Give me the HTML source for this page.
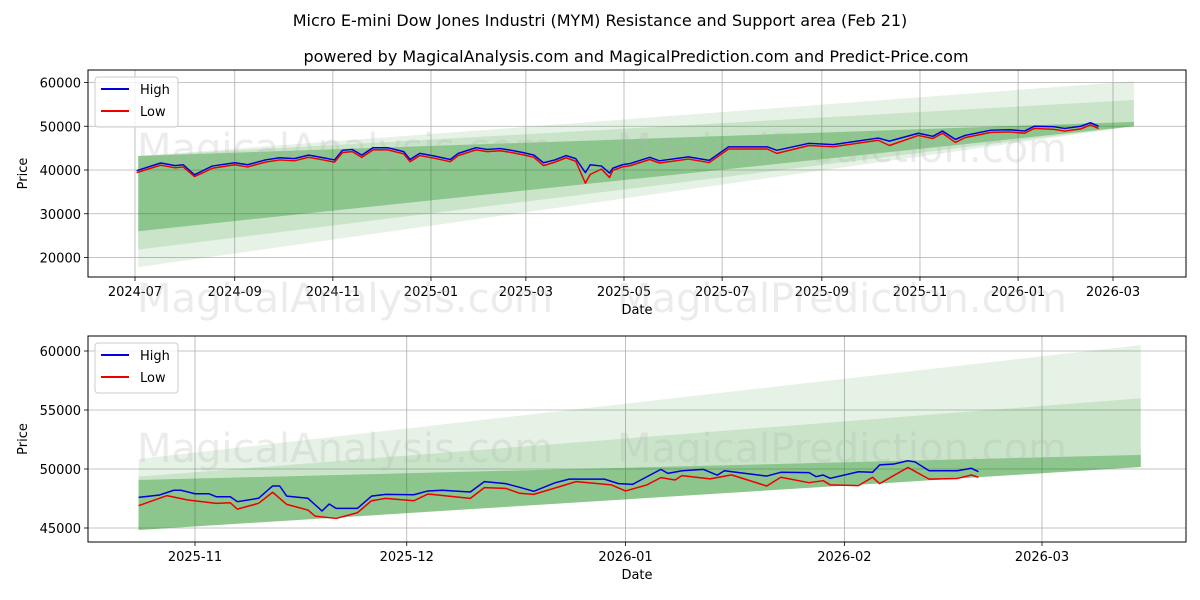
<!DOCTYPE html>
<html><head><meta charset="utf-8"><style>
body{margin:0;background:#fff;}
svg{display:block;font-family:"DejaVu Sans","Liberation Sans",sans-serif;}
</style></head><body>
<svg id="chart" width="1200" height="600" viewBox="0 0 1200 600" xmlns="http://www.w3.org/2000/svg">
<rect width="1200" height="600" fill="#fff"/>
<text x="600" y="26" text-anchor="middle" font-size="16">Micro E-mini Dow Jones Industri (MYM) Resistance and Support area (Feb 21)</text>
<text x="636" y="62" text-anchor="middle" font-size="16">powered by MagicalAnalysis.com and MagicalPrediction.com and Predict-Price.com</text>
<g id="top"></g>
<g id="bot"></g>
</svg>
<script>
// ---- top panel data ----
const topDates = ["2024-07-02","2024-07-17","2024-07-26","2024-07-31","2024-08-07","2024-08-13","2024-08-18","2024-09-01","2024-09-09","2024-09-20","2024-09-29","2024-10-08","2024-10-17","2024-10-26","2024-11-02","2024-11-07","2024-11-13","2024-11-19","2024-11-26","2024-12-05","2024-12-15","2024-12-19","2024-12-25","2025-01-03","2025-01-13","2025-01-18","2025-01-29","2025-02-05","2025-02-13","2025-02-20","2025-02-27","2025-03-06","2025-03-12","2025-03-19","2025-03-26","2025-04-01","2025-04-07","2025-04-10","2025-04-17","2025-04-22","2025-04-24","2025-04-30","2025-05-05","2025-05-17","2025-05-23","2025-06-10","2025-06-23","2025-07-05","2025-07-29","2025-08-04","2025-08-24","2025-09-08","2025-10-06","2025-10-13","2025-10-31","2025-11-09","2025-11-15","2025-11-23","2025-11-29","2025-12-15","2025-12-27","2026-01-05","2026-01-11","2026-01-23","2026-01-30","2026-02-09","2026-02-15","2026-02-20"];
const topHigh = [39850,41600,41000,41200,38900,40000,40900,41650,41200,42300,42800,42600,43400,42800,42300,44500,44700,43400,45100,45100,44200,42400,43800,43200,42400,43800,45100,44700,44900,44500,44000,43400,41650,42300,43300,42600,39400,41200,40900,39300,40400,41200,41500,42900,42100,43000,42200,45300,45300,44500,46100,45800,47300,46600,48400,47700,48900,47000,47900,49100,49200,48900,50000,49900,49500,50000,50800,50000];
const topLow = [39400,41100,40500,40700,38500,39500,40400,41200,40700,41800,42300,42100,42900,42300,41800,44000,44200,42900,44600,44600,43700,41900,43300,42700,41900,43300,44600,44200,44400,44000,43500,42900,41000,41800,42800,42000,37000,39000,40200,38300,39900,40700,41000,42400,41600,42500,41700,44800,44800,43800,45600,45300,46800,45600,47900,47200,48400,46300,47400,48600,48700,48400,49500,49300,48900,49400,50300,49500];
const topYTicks = [20000,30000,40000,50000,60000];
const topXTicks = ["2024-07","2024-09","2024-11","2025-01","2025-03","2025-05","2025-07","2025-09","2025-11","2026-01","2026-03"];
const topBandDates = ["2024-07-03","2026-03-14"];
const topBandOuterTop = [43200,60300], topBandOuterBot = [17800,50000];
const topBandMidTop = [43200,56000], topBandMidBot = [21800,50000];
const topBandInnerTop = [43200,51000], topBandInnerBot = [26000,50000];
// ---- bottom panel data ----
const botHighDates = ["2025-10-24","2025-10-27","2025-10-29","2025-10-30","2025-11-01","2025-11-03","2025-11-04","2025-11-06","2025-11-07","2025-11-10","2025-11-12","2025-11-13","2025-11-14","2025-11-17","2025-11-19","2025-11-20","2025-11-21","2025-11-24","2025-11-26","2025-11-28","2025-12-02","2025-12-04","2025-12-06","2025-12-10","2025-12-12","2025-12-15","2025-12-17","2025-12-19","2025-12-22","2025-12-24","2025-12-29","2025-12-31","2026-01-02","2026-01-06","2026-01-07","2026-01-09","2026-01-12","2026-01-14","2026-01-15","2026-01-21","2026-01-23","2026-01-27","2026-01-28","2026-01-29","2026-01-30","2026-02-03","2026-02-05","2026-02-06","2026-02-08","2026-02-10","2026-02-11","2026-02-13","2026-02-17","2026-02-19","2026-02-20"];
const botHigh = [47600,47800,48200,48200,47900,47900,47650,47650,47230,47520,48560,48560,47700,47520,46440,47030,46660,46660,47700,47850,47820,48140,48200,48050,48930,48760,48450,48110,48830,49140,49140,48760,48700,49970,49630,49850,49970,49480,49850,49400,49720,49690,49350,49490,49210,49770,49720,50350,50420,50700,50600,49850,49850,50060,49770];
const botLowDates = ["2025-10-24","2025-10-28","2025-10-31","2025-11-04","2025-11-06","2025-11-07","2025-11-10","2025-11-12","2025-11-14","2025-11-17","2025-11-18","2025-11-21","2025-11-24","2025-11-26","2025-11-28","2025-12-02","2025-12-04","2025-12-10","2025-12-12","2025-12-15","2025-12-17","2025-12-19","2025-12-25","2025-12-30","2026-01-01","2026-01-04","2026-01-06","2026-01-08","2026-01-09","2026-01-13","2026-01-16","2026-01-21","2026-01-23","2026-01-27","2026-01-29","2026-01-30","2026-02-03","2026-02-05","2026-02-06","2026-02-10","2026-02-13","2026-02-17","2026-02-19","2026-02-20"];
const botLow = [46890,47740,47370,47090,47140,46600,47090,48030,47000,46520,46010,45810,46290,47310,47510,47310,47880,47510,48420,48360,47940,47850,48930,48650,48140,48650,49270,49070,49440,49160,49500,48560,49300,48840,49010,48650,48590,49300,48760,50130,49140,49200,49490,49300];
const botYTicks = [45000,50000,55000,60000];
const botXTicks = ["2025-11","2025-12","2026-01","2026-02","2026-03"];
const botBandDates = ["2025-10-24","2026-03-15"];
const botBandOuterTop = [50850,60500], botBandOuterBot = [44830,50170];
const botBandMidTop = [49350,56000], botBandMidBot = [44830,50170];
const botBandInnerTop = [49070,51200], botBandInnerBot = [44830,50170];

const NS = "http://www.w3.org/2000/svg";
function mk(parent, tag, attrs){const e=document.createElementNS(NS,tag);for(const k in attrs)e.setAttribute(k,attrs[k]);parent.appendChild(e);return e;}
function t(s){const p=s.split("-").map(Number);return Date.UTC(p[0],p[1]-1,p[2]||1)/86400000;}

function panel(g, cfg){
  const {L,R,T,B,v0,v1} = cfg;
  // x mapping anchored on two tick dates
  const X = d => cfg.xa[1] + (t(d)-t(cfg.xa[0]))/(t(cfg.xb[0])-t(cfg.xa[0]))*(cfg.xb[1]-cfg.xa[1]);
  const Y = v => B - (v-v0)/(v1-v0)*(B-T);
  cfg.xt.forEach(d=>{
    const l=mk(g,"line",{x1:X(d),x2:X(d),y1:T,y2:B,stroke:"#b0b0b0","stroke-width":0.8});
     
    const k=mk(g,"line",{x1:X(d),x2:X(d),y1:B,y2:B+4,stroke:"#000","stroke-width":0.8});
     
    const tx=mk(g,"text",{x:X(d),y:B+19,"text-anchor":"middle","font-size":13});
     
    tx.textContent=d;
  });
  cfg.yt.forEach(v=>{
    const l=mk(g,"line",{x1:L,x2:R,y1:Y(v),y2:Y(v),stroke:"#b0b0b0","stroke-width":0.8});
     
    const k=mk(g,"line",{x1:L-4,x2:L,y1:Y(v),y2:Y(v),stroke:"#000","stroke-width":0.8});
     
    const tx=mk(g,"text",{x:L-7,y:Y(v)+5,"text-anchor":"end","font-size":13});
     
    tx.textContent=v;
  });
  const bands=[[cfg.bo,cfg.bob,"rgba(0,128,0,0.10)"],[cfg.bm,cfg.bmb,"rgba(0,128,0,0.12)"],[cfg.bi,cfg.bib,"rgba(0,128,0,0.30)"]];
  bands.forEach(b=>{
    const [tp,bt,c]=b, d=cfg.bd;
    const pts=`${X(d[0])},${Y(tp[0])} ${X(d[1])},${Y(tp[1])} ${X(d[1])},${Y(bt[1])} ${X(d[0])},${Y(bt[0])}`;
    const p=mk(g,"polygon",{points:pts,fill:c});
     
  });
  cfg.wm.forEach(w=>{
    const tx=mk(g,"text",{x:w[0],y:w[1],"text-anchor":"middle","font-size":40,fill:"rgba(180,180,180,0.25)"});
     
    tx.textContent=w[2];
  });
  const hp=cfg.hd.map((d,i)=>`${X(d)},${Y(cfg.h[i])}`).join(" ");
  const lp=cfg.ld.map((d,i)=>`${X(d)},${Y(cfg.l[i])}`).join(" ");
  const h=mk(g,"polyline",{points:hp,fill:"none",stroke:"#0000dd","stroke-width":1.5,"stroke-linejoin":"round"});
   
  const lo=mk(g,"polyline",{points:lp,fill:"none",stroke:"#ee0000","stroke-width":1.5,"stroke-linejoin":"round"});
   
  const f=mk(g,"rect",{x:L,y:T,width:R-L,height:B-T,fill:"none",stroke:"#000","stroke-width":1});
   
  const xl=mk(g,"text",{x:(L+R)/2,y:B+37,"text-anchor":"middle","font-size":13});
    xl.textContent="Date";
  const yl=mk(g,"text",{x:27,y:(T+B)/2,"text-anchor":"middle","font-size":13,transform:`rotate(-90 27 ${(T+B)/2})`});
    yl.textContent="Price";
  const lg=mk(g,"g",{});
   
  const lr=mk(lg,"rect",{x:L+7,y:T+7,width:83,height:50,rx:3,fill:"rgba(255,255,255,0.8)",stroke:"#ccc"});
   
  [["High","#0000dd",T+19],["Low","#ee0000",T+41]].forEach(e=>{
    const ln=mk(lg,"line",{x1:L+13,x2:L+41,y1:e[2],y2:e[2],stroke:e[1],"stroke-width":2});
     
    const tx=mk(lg,"text",{x:L+52,y:e[2]+5,"font-size":13});
      tx.textContent=e[0];
  });
}
panel(document.getElementById("top"),{L:88,R:1186,T:70,B:277,xa:["2024-07-01",135],xb:["2026-03-01",1113],v0:40000-107/4.375*1000,v1:40000+(170-70)/0.004375,
  xt:topXTicks,yt:topYTicks,bd:topBandDates,bo:topBandOuterTop,bob:topBandOuterBot,bm:topBandMidTop,bmb:topBandMidBot,bi:topBandInnerTop,bib:topBandInnerBot,
  hd:topDates,h:topHigh,ld:topDates,l:topLow,
  wm:[[345,162,"MagicalAnalysis.com"],[842,162,"MagicalPrediction.com"],[345,312,"MagicalAnalysis.com"],[842,312,"MagicalPrediction.com"]]});
panel(document.getElementById("bot"),{L:88,R:1186,T:336,B:542,xa:["2025-11-01",195],xb:["2026-03-01",1042],v0:50000-(542-469)/0.0118,v1:50000+(469-336)/0.0118,
  xt:botXTicks,yt:botYTicks,bd:botBandDates,bo:botBandOuterTop,bob:botBandOuterBot,bm:botBandMidTop,bmb:botBandMidBot,bi:botBandInnerTop,bib:botBandInnerBot,
  hd:botHighDates,h:botHigh,ld:botLowDates,l:botLow,
  wm:[[345,462,"MagicalAnalysis.com"],[842,462,"MagicalPrediction.com"]]});
</script>
</body></html>
